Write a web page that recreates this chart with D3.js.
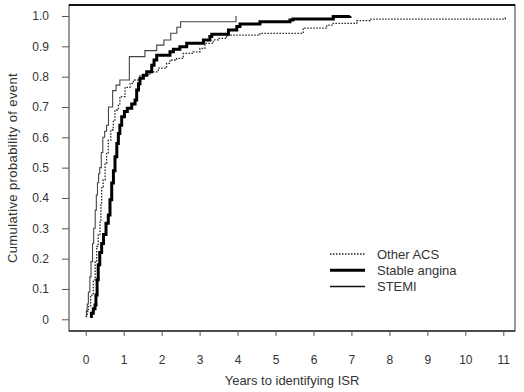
<!DOCTYPE html>
<html lang='en'>
<head>
<meta charset='utf-8'>
<title>Cumulative probability of ISR</title>
<script src='https://cdn.jsdelivr.net/npm/d3@7'></script>
<style>
  body { margin: 0; background: #fff; }
  text { font-family: 'Liberation Sans', Arial, sans-serif; fill: #333; }
</style>
</head>
<body>
<script>
// data: years -> cumulative probability
var stemiYears = [0.0, 0.02, 0.04, 0.07, 0.11, 0.14, 0.18, 0.21, 0.25, 0.28, 0.31, 0.34, 0.37, 0.41, 0.45, 0.50, 0.55, 0.60, 0.71, 0.80, 0.90, 1.15, 1.56, 1.87, 2.06, 2.24, 2.40, 2.50, 3.96]
var stemiProb  = [0.01, 0.03, 0.05, 0.09, 0.14, 0.19, 0.25, 0.30, 0.36, 0.41, 0.45, 0.48, 0.50, 0.55, 0.60, 0.62, 0.64, 0.70, 0.754, 0.772, 0.789, 0.866, 0.886, 0.904, 0.921, 0.943, 0.963, 0.981, 1.0]

var stableYears = [0.115, 0.15, 0.20, 0.245, 0.27, 0.30, 0.33, 0.37, 0.42, 0.47, 0.535, 0.595, 0.64, 0.685, 0.73, 0.772, 0.82, 0.86, 0.90, 0.948, 1.02, 1.096, 1.212, 1.30, 1.343, 1.39, 1.43, 1.52, 1.607, 1.739, 1.80, 1.87, 2.22, 2.31, 2.48, 2.66, 3.10, 3.27, 3.32, 3.76, 3.98, 4.065, 4.59, 5.38, 5.46, 6.52, 6.96]
var stableProb  = [0.009, 0.02, 0.035, 0.047, 0.08, 0.13, 0.18, 0.22, 0.25, 0.28, 0.317, 0.344, 0.394, 0.449, 0.49, 0.536, 0.58, 0.613, 0.64, 0.668, 0.685, 0.696, 0.71, 0.723, 0.756, 0.777, 0.795, 0.805, 0.816, 0.838, 0.855, 0.871, 0.882, 0.89, 0.899, 0.91, 0.921, 0.932, 0.94, 0.954, 0.965, 0.974, 0.981, 0.987, 0.99, 0.998, 1.0]

var otherYears = [0.0, 0.04, 0.07, 0.13, 0.20, 0.25, 0.29, 0.33, 0.377, 0.40, 0.42, 0.46, 0.51, 0.55, 0.595, 0.66, 0.727, 0.77, 0.86, 0.90, 1.035, 1.167, 1.254, 1.43, 1.69, 1.91, 2.13, 2.22, 2.40, 2.57, 2.83, 3.01, 3.14, 3.36, 3.49, 3.71, 4.59, 5.73, 6.35, 6.52, 7.14, 7.49, 11.05]
var otherProb  = [0.009, 0.025, 0.042, 0.08, 0.13, 0.19, 0.24, 0.28, 0.327, 0.38, 0.437, 0.46, 0.514, 0.55, 0.591, 0.625, 0.657, 0.69, 0.71, 0.734, 0.765, 0.778, 0.789, 0.805, 0.816, 0.828, 0.844, 0.855, 0.86, 0.877, 0.882, 0.893, 0.91, 0.921, 0.926, 0.937, 0.943, 0.96, 0.97, 0.976, 0.985, 0.99, 1.0]

var xTicks = [0, 1, 2, 3, 4, 5, 6, 7, 8, 9, 10, 11]
var yTicks = [0, 0.1, 0.2, 0.3, 0.4, 0.5, 0.6, 0.7, 0.8, 0.9, 1.0]
var seriesNames = ['Other ACS', 'Stable angina', 'STEMI']

var width = 524, height = 392
var box = {left: 69, right: 515, top: 5, bottom: 331}

var svg = d3.select('body').append('svg').attr('width', width).attr('height', height)

var x = d3.scaleLinear().domain([0, 11]).range([85.7, 503.3])
var y = d3.scaleLinear().domain([0, 1]).range([319.3, 16])

// frame
svg.append('rect')
  .attr('x', box.left).attr('y', box.top)
  .attr('width', box.right - box.left).attr('height', box.bottom - box.top)
  .attr('fill', 'none').attr('stroke', '#555').attr('stroke-width', 1.2)
svg.append('line')
  .attr('x1', box.left).attr('x2', box.right).attr('y1', box.top).attr('y2', box.top)
  .attr('stroke', '#111').attr('stroke-width', 2.2)
svg.append('line')
  .attr('x1', box.left).attr('x2', box.right).attr('y1', box.bottom).attr('y2', box.bottom)
  .attr('stroke', '#333').attr('stroke-width', 1.6)

// axes
var yAxis = svg.append('g').attr('transform', 'translate(' + box.left + ',0)')
  .call(d3.axisLeft(y).tickValues(yTicks).tickSize(7).tickPadding(13)
    .tickFormat(d => d === 0 ? '0' : d3.format('.1f')(d)))
yAxis.select('.domain').remove()
yAxis.selectAll('line').attr('stroke', '#555')
yAxis.selectAll('text').style('font-size', '12px').attr('fill', '#333')

var xAxis = svg.append('g').attr('transform', 'translate(0,' + box.bottom + ')')
  .call(d3.axisBottom(x).tickValues(xTicks).tickSize(5).tickPadding(19))
xAxis.select('.domain').remove()
xAxis.selectAll('line').attr('stroke', '#555')
xAxis.selectAll('text').style('font-size', '12px').attr('fill', '#333')

svg.append('text')
  .attr('x', (box.left + box.right) / 2).attr('y', 385)
  .attr('text-anchor', 'middle').style('font-size', '13px')
  .text('Years to identifying ISR')

svg.append('text')
  .attr('transform', 'translate(17,' + ((box.top + box.bottom) / 2) + ') rotate(-90)')
  .attr('text-anchor', 'middle').style('font-size', '13px').style('letter-spacing', '0.4px')
  .text('Cumulative probability of event')

// curves
var line = d3.line().x(d => x(d[0])).y(d => y(d[1])).curve(d3.curveStepAfter)

var series = [
  {name: 'Other ACS', pts: d3.zip(otherYears, otherProb), stroke: '#222', w: 1.3, dash: '1.5,1.5'},
  {name: 'Stable angina', pts: d3.zip(stableYears, stableProb), stroke: '#000', w: 3, dash: null},
  {name: 'STEMI', pts: d3.zip(stemiYears, stemiProb), stroke: '#444', w: 1.1, dash: null}
]

svg.selectAll('path.curve').data(series).enter().append('path')
  .attr('class', 'curve')
  .attr('d', d => line(d.pts))
  .attr('fill', 'none')
  .attr('stroke', d => d.stroke)
  .attr('stroke-width', d => d.w)
  .attr('stroke-dasharray', d => d.dash)

// legend
var legend = svg.append('g')
var rows = legend.selectAll('g').data(series).enter().append('g')
  .attr('transform', (d, i) => 'translate(330,' + (254 + i * 16.3) + ')')
rows.append('line')
  .attr('x1', 0).attr('x2', 35)
  .attr('stroke', d => d.name === 'STEMI' ? '#111' : d.stroke)
  .attr('stroke-width', d => d.name === 'STEMI' ? 1.5 : d.w)
  .attr('stroke-dasharray', d => d.dash)
rows.append('text')
  .attr('x', 47).attr('dy', '0.35em').style('font-size', '13px')
  .text(d => d.name)
</script>
</body>
</html>
